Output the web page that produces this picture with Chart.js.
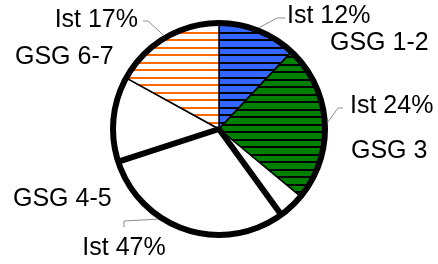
<!DOCTYPE html>
<html>
<head>
<meta charset="utf-8">
<script src="https://cdn.jsdelivr.net/npm/chart.js@4.4.0/dist/chart.umd.min.js"></script>
<style>
  html, body { margin: 0; padding: 0; background: #fff; }
  #wrap { width: 438px; height: 264px; }
</style>
</head>
<body>
<div id="wrap"><canvas id="pieChart"></canvas></div>
<script>
// groups and their actual ("Ist") shares in percent
const groups = ['GSG 1-2', 'GSG 3', 'GSG 4-5', 'GSG 6-7'];
const istShares = [12, 24, 47, 17];
// GSG 4-5 is drawn as three white sub-slices
const gsg45Parts = [4, 30, 13];

// build the slice list, remembering which group each slice belongs to
const sliceValues = [];
const sliceGroup = [];
groups.forEach(function(g, i) {
    if (g === 'GSG 4-5') {
        gsg45Parts.forEach(function(v) { sliceValues.push(v); sliceGroup.push(i); });
    } else {
        sliceValues.push(istShares[i]);
        sliceGroup.push(i);
    }
});

function stripes(bg, line, top) {
    const c = document.createElement('canvas');
    c.width = 8; c.height = 15;
    const x = c.getContext('2d');
    x.fillStyle = bg;
    x.fillRect(0, 0, 8, 15);
    x.fillStyle = line;
    x.fillRect(0, top, 8, 2);
    x.fillRect(0, top + 7, 8, 2);
    return x.createPattern(c, 'repeat');
}

const blueFill = stripes('#3366ff', '#000000', 2);
const greenFill = stripes('#008000', '#000000', 4);
const orangeFill = stripes('#ffffff', '#ff6a00', 2);
const groupFill = [blueFill, greenFill, '#ffffff', orangeFill];

// where the texts sit, relative to the pie centre
const labelLayout = [
    { elbow: [58, -111], end: [66, -111], text: [68, -113], align: 'left', name: [111, -86] },
    { elbow: [119, -21], end: [124, -21], text: [131, -23], align: 'left', name: [132, 22] },
    { elbow: [-95, 92], end: [-95, 98], text: [-95, 119], align: 'center', name: [-206, 70] },
    { elbow: [-71, -108], end: [-76, -108], text: [-81, -109], align: 'right', name: [-204, -72] }
];

const pieDecor = {
    id: 'pieDecor',
    afterDatasetsDraw: function(chart) {
        const ctx = chart.ctx;
        const arcs = chart.getDatasetMeta(0).data;
        const cx = arcs[0].x, cy = arcs[0].y, r = arcs[0].outerRadius;
        ctx.save();
        ctx.setLineDash([]);
        ctx.strokeStyle = '#000000';

        // heavy outer ring
        ctx.lineWidth = 6;
        ctx.beginPath();
        ctx.arc(cx, cy, r - 0.5, 0, Math.PI * 2);
        ctx.closePath();
        ctx.stroke();

        // heavy edges of the big GSG 4-5 slice
        const big = arcs[sliceGroup.indexOf(2) + 1];
        ctx.lineWidth = 6;
        [big.startAngle, big.endAngle].forEach(function(a) {
            ctx.beginPath();
            ctx.moveTo(cx, cy);
            ctx.lineTo(cx + r * Math.cos(a), cy + r * Math.sin(a));
            ctx.stroke();
        });

        // leader lines and labels
        ctx.font = '25px "Liberation Sans", Arial, sans-serif';
        ctx.textBaseline = 'middle';
        groups.forEach(function(g, i) {
            const first = arcs[sliceGroup.indexOf(i)];
            const last = arcs[sliceGroup.lastIndexOf(i)];
            const mid = (first.startAngle + last.endAngle) / 2;
            const L = labelLayout[i];
            ctx.strokeStyle = '#8c8c8c';
            ctx.lineWidth = 1;
            ctx.beginPath();
            ctx.moveTo(cx + (r + 2.5) * Math.cos(mid), cy + (r + 2.5) * Math.sin(mid));
            ctx.lineTo(cx + L.elbow[0], cy + L.elbow[1]);
            ctx.lineTo(cx + L.end[0], cy + L.end[1]);
            ctx.stroke();

            ctx.fillStyle = '#000';
            ctx.textAlign = L.align;
            ctx.fillText('Ist ' + istShares[i] + '%', cx + L.text[0], cy + L.text[1]);
            ctx.textAlign = 'left';
            ctx.fillText(g, cx + L.name[0], cy + L.name[1]);
        });
        ctx.restore();
    }
};

const pieCtx = document.getElementById('pieChart').getContext('2d');
const pieChart = new Chart(pieCtx, {
    type: 'pie',
    data: {
        labels: sliceGroup.map(function(i) { return groups[i]; }),
        datasets: [{
            data: sliceValues,
            backgroundColor: sliceGroup.map(function(i) { return groupFill[i]; }),
            borderColor: '#000000',
            borderWidth: 1.5
        }]
    },
    options: {
        responsive: true,
        maintainAspectRatio: false,
        animation: false,
        events: [],
        radius: 106.5,
        layout: { padding: { top: 0, bottom: 6, left: 0, right: 0 } },
        plugins: {
            legend: { display: false },
            tooltip: { enabled: false }
        }
    },
    plugins: [pieDecor]
});
</script>
</body>
</html>
